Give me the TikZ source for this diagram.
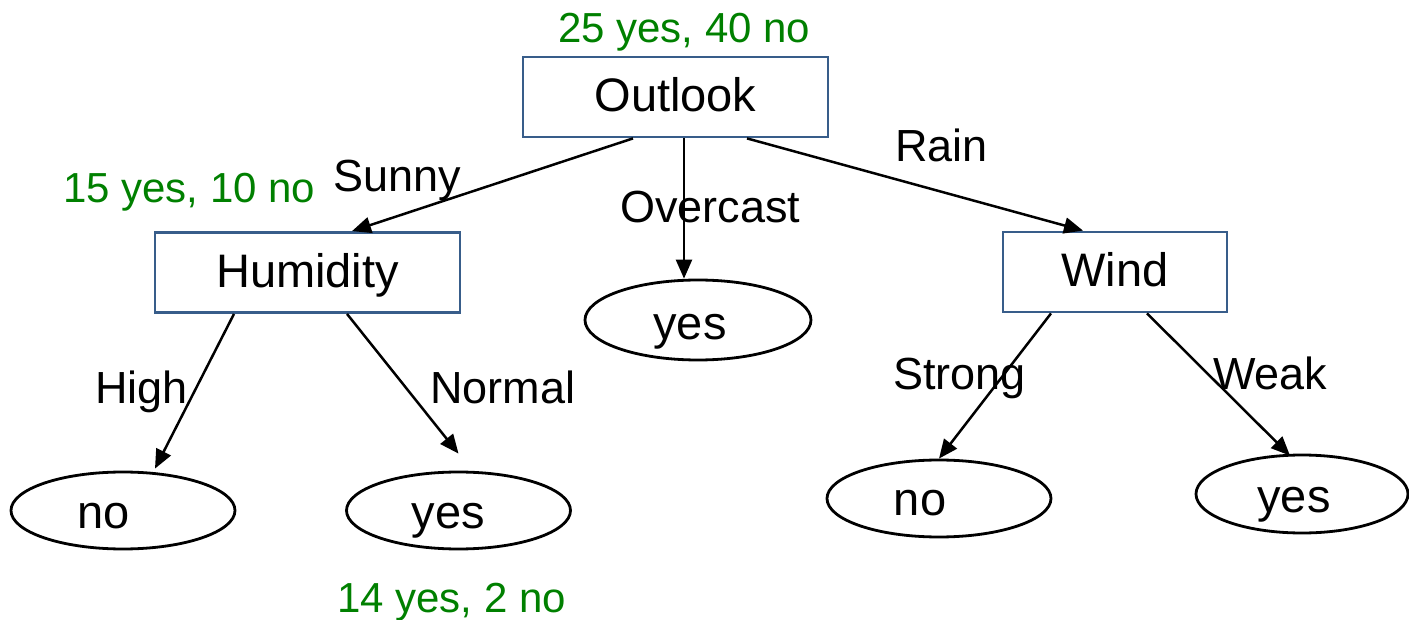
\documentclass[tikz,border=0pt]{standalone}
\usepackage{fontspec}
\setmainfont{Liberation Sans}
\usetikzlibrary{arrows.meta,shapes.geometric}

\definecolor{boxblue}{RGB}{56,93,138}
\definecolor{countgreen}{RGB}{0,128,0}

\tikzset{
  attrbox/.style={rectangle, draw=boxblue, line width=2.8pt, fill=white,
    inner sep=0pt, text height=30pt, text depth=0pt,
    font=\fontsize{47pt}{56pt}\selectfont, minimum height=80pt},
  leafshape/.style={ellipse, draw=black, line width=2.8pt, inner sep=0pt,
    minimum width=224pt, minimum height=77pt},
  leaftext/.style={anchor=base, inner sep=0pt, font=\fontsize{47pt}{56pt}\selectfont},
  branch/.style={anchor=base west, inner sep=0pt, font=\fontsize{45pt}{54pt}\selectfont},
  counts/.style={anchor=base west, inner sep=0pt, text=countgreen,
    font=\fontsize{42pt}{50pt}\selectfont},
  edge/.style={line width=2.5pt, -{Triangle[length=19pt,width=16pt]}},
}

\begin{document}
\begin{tikzpicture}[x=1pt, y=-1pt]
  \clip (0,0) rectangle (1409,620);

  % attribute tests
  \node[attrbox, minimum width=305pt] (outlook) at (675.5,97) {Outlook};
  \node[attrbox, minimum width=305pt] (humidity) at (307.5,272.5) {Humidity};
  \node[attrbox, minimum width=224pt] (wind) at (1115,272) {Wind};

  % leaves
  \node[leafshape] (high) at (123,510.5) {};
  \node[leafshape] (normal) at (458.5,510.5) {};
  \node[leafshape, minimum width=226pt, minimum height=80pt] (overcast) at (698,320) {};
  \node[leafshape] (strong) at (939,498.5) {};
  \node[leafshape, minimum width=212pt, minimum height=78pt] (weak) at (1302,494) {};

  \node[leaftext] (hightext) at ([shift={(-19pt,-17.5pt)}]high.center) {no};
  \node[leaftext] (normaltext) at ([shift={(-10pt,-17.5pt)}]normal.center) {yes};
  \node[leaftext] (overcasttext) at ([shift={(-8pt,-20pt)}]overcast.center) {yes};
  \node[leaftext] (strongtext) at ([shift={(-19pt,-17pt)}]strong.center) {no};
  \node[leaftext] (weaktext) at ([shift={(-8pt,-18pt)}]weak.center) {yes};

  % branches
  \draw[edge] ([xshift=-42.5pt]outlook.south) -- ([xshift=44.5pt]humidity.north);
  \draw[edge] ([xshift=8.5pt]outlook.south) -- ([xshift=-14pt]overcast.north);
  \draw[edge] ([xshift=71.5pt]outlook.south) -- ([xshift=-32pt]wind.north);
  \draw[edge] ([xshift=-73.5pt]humidity.south) -- ([xshift=32pt,yshift=2pt]high.north);
  \draw[edge] ([xshift=39.5pt]humidity.south) -- ([yshift=17pt]normal.north);
  \draw[edge] ([xshift=-64pt]wind.south) -- (strong.north);
  \draw[edge] ([xshift=32pt]wind.south) -- ([xshift=-12pt,yshift=-2pt]weak.north);

  % branch values
  \node[branch] (sunnylab) at (333,192) {Sunny};
  \node[branch] (overcastlab) at (620,223) {Overcast};
  \node[branch] (rainlab) at (895,162) {Rain};
  \node[branch] (highlab) at (95,403) {High};
  \node[branch] (normallab) at (430,403) {Normal};
  \node[branch] (stronglab) at (893,389) {Strong};
  \node[branch] (weaklab) at (1213,389) {Weak};

  % class counts
  \node[counts] (rootcount) at (558,43) {25 yes, 40 no};
  \node[counts] (sunnycount) at (63,203) {15 yes, 10 no};
  \node[counts] (normalcount) at (337,612) {14 yes, 2 no};
\end{tikzpicture}
\end{document}
